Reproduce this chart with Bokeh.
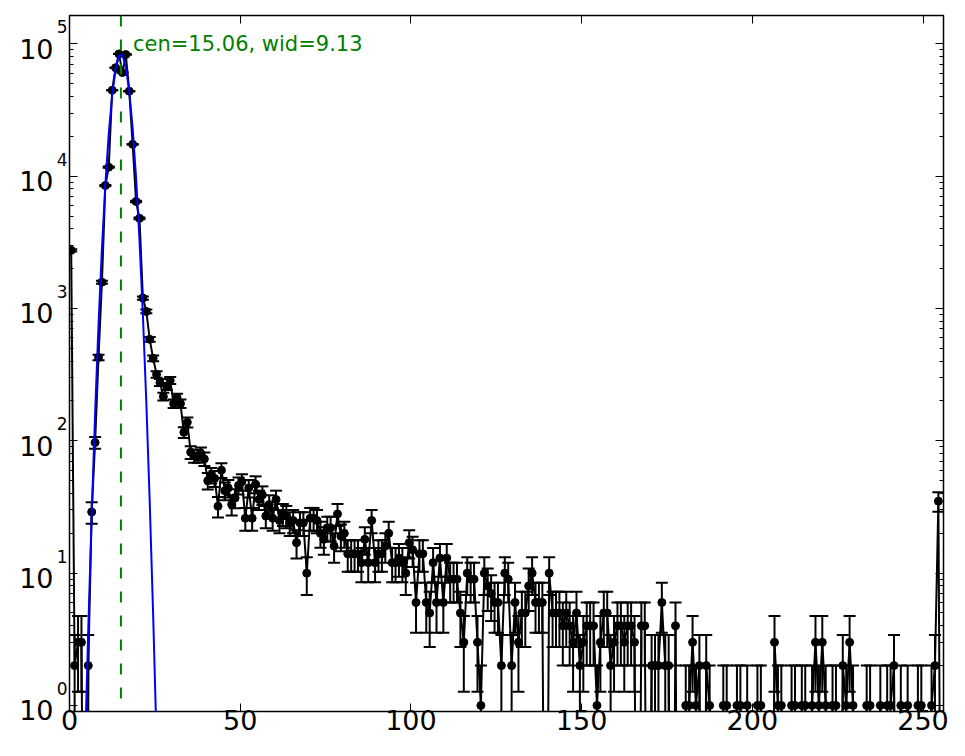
import numpy as np
from bokeh.plotting import figure
from bokeh.models import (Span, Label, LinearAxis, LogAxis, SingleIntervalTicker,
                          LogTicker, Range1d, CustomJSTickFormatter)
from bokeh.embed import file_html
from bokeh.resources import INLINE

# ---------------- data (counts per channel 0..255) ----------------
counts = [
    2750, 2, 3, 3, 0, 2, 29, 97, 427, 1580, 8500, 11700, 44600, 66000, 84000, 60700,
    83000, 43900, 17400, 6440, 4800, 1200, 950, 585, 420, 318, 276, 216, 258, 286, 191, 212,
    191, 116, 138, 82, 77, 77, 80, 73, 50, 55, 52, 32, 60, 42, 44, 33,
    37, 46, 49, 26, 44, 26, 47, 36, 39, 27, 33, 26, 36, 25, 28, 27,
    24, 25, 17, 24, 24, 10, 26, 26, 25, 20, 18, 22, 22, 16, 28, 19,
    20, 14, 14, 14, 14, 12, 18, 12, 25, 12, 14, 14, 16, 20, 12, 12,
    13, 12, 10, 17, 15, 6, 14, 14, 6, 5, 12, 6, 13, 6, 13, 9,
    9, 9, 5, 3, 10, 9, 9, 3, 1, 10, 8, 7, 6, 6, 2, 10,
    9, 2, 6, 3, 5, 5, 8, 10, 6, 6, 6, 0, 10, 5, 5, 5,
    4, 5, 4, 3, 5, 2, 3, 4, 4, 4, 1, 3, 5, 5, 2, 3,
    4, 4, 3, 4, 4, 3, 0, 4, 4, 0, 2, 2, 2, 6, 2, 2,
    0, 4, 0, 0, 1, 1, 3, 1, 2, 0, 2, 1, 0, 0, 0, 1,
    1, 0, 0, 1, 1, 0, 1, 0, 0, 1, 1, 0, 0, 0, 3, 1,
    1, 0, 0, 1, 1, 0, 1, 1, 0, 1, 3, 1, 3, 1, 0, 1,
    1, 0, 2, 1, 3, 1, 0, 0, 0, 1, 1, 0, 0, 1, 0, 1,
    1, 2, 0, 1, 0, 1, 0, 0, 1, 1, 0, 0, 1, 2, 35, 0,
]
channels = list(range(256))

fit_cen = 15.06
fit_wid = 9.13
fit_amp = 84000.0
fit_label = "cen=15.06, wid=9.13"
label_pos = (18.6, 1e5)

x_ticks = [0, 50, 100, 150, 200, 250]
y_exponents = [0, 1, 2, 3, 4, 5]

FONT = "DejaVu Sans"

# ---------------- derived ----------------
x = np.array(channels, dtype=float) + 0.5
n = np.array(counts, dtype=float)
FLOOR = 1e-3
y_line = np.where(n > 0, n, FLOOR)

mask = n > 0
xm = x[mask]
nm = n[mask]
err = np.sqrt(nm)
lo = np.maximum(nm - err, FLOOR)
hi = nm + err

xf = x[:40]
yf = np.maximum(fit_amp * np.exp(-(xf - fit_cen) ** 2 / fit_wid), FLOOR)

# ---------------- figure ----------------
Y0, Y1 = 0.90, 1.638e5
FRAME_H = 696.0
px_per_dec = FRAME_H / (np.log10(Y1) - np.log10(Y0))


def shifted(px_up):
    f = 10 ** (-px_up / px_per_dec)
    return Range1d(Y0 * f, Y1 * f)


p = figure(width=965, height=756, output_backend="svg", toolbar_location=None,
           x_range=Range1d(0, 256), y_range=Range1d(Y0, Y1),
           y_axis_type="log",
           min_border_left=69, min_border_right=22, min_border_top=15,
           min_border_bottom=45)
p.grid.visible = False
p.outline_line_color = "black"
p.outline_line_width = 1.5
p.background_fill_color = "white"
p.border_fill_color = "white"
p.extra_y_ranges = {"exp": shifted(17), "ten": shifted(-5)}

blank = CustomJSTickFormatter(code="return '';")

xa = p.xaxis[0]
xa.ticker = SingleIntervalTicker(interval=50, num_minor_ticks=0)
xa.major_tick_in = 8
xa.major_tick_out = 0
xa.minor_tick_line_color = None
xa.axis_line_color = None
xa.major_label_text_font = FONT
xa.major_label_text_font_size = "27px"
xa.major_label_text_color = "black"
xa.major_label_standoff = -2

# main y axis: ticks only
ya = p.yaxis[0]
ya.ticker = LogTicker(num_minor_ticks=10)
ya.formatter = blank
ya.major_tick_in = 8
ya.major_tick_out = 0
ya.minor_tick_in = 4
ya.minor_tick_out = 0
ya.axis_line_color = None
ya.major_label_text_font_size = "1px"
ya.major_label_standoff = 0

# exponent labels (placed above each tick)
exp_axis = LogAxis(y_range_name="exp", ticker=LogTicker(num_minor_ticks=0),
                   formatter=CustomJSTickFormatter(code="return String(Math.round(Math.log10(tick)));"),
                   major_tick_line_color=None, minor_tick_line_color=None,
                   axis_line_color=None, major_label_text_font=FONT,
                   major_label_text_font_size="17px", major_label_text_color="black",
                   major_label_standoff=-4)
p.add_layout(exp_axis, "left")
# "10" mantissa labels (slightly below each tick)
ten_axis = LogAxis(y_range_name="ten", ticker=LogTicker(num_minor_ticks=0),
                   formatter=CustomJSTickFormatter(code="return '10';"),
                   major_tick_line_color=None, minor_tick_line_color=None,
                   axis_line_color=None, major_label_text_font=FONT,
                   major_label_text_font_size="27px", major_label_text_color="black",
                   major_label_standoff=-6)
p.add_layout(ten_axis, "left")

top = LinearAxis(ticker=SingleIntervalTicker(interval=50, num_minor_ticks=0),
                 formatter=blank,
                 major_tick_in=8, major_tick_out=0, minor_tick_line_color=None,
                 axis_line_color=None, major_label_text_font_size="1px",
                 major_label_standoff=0)
p.add_layout(top, "above")
right = LogAxis(ticker=LogTicker(num_minor_ticks=10), formatter=blank,
                major_tick_in=8, major_tick_out=0, minor_tick_in=4, minor_tick_out=0,
                axis_line_color=None, major_label_text_font_size="1px",
                major_label_standoff=0)
p.add_layout(right, "right")

# data line
p.line(x, y_line, line_color="black", line_width=2)
# error bars
p.segment(x0=xm, y0=lo, x1=xm, y1=hi, line_color="black", line_width=2)
p.scatter(xm, hi, marker="dash", size=12, line_color="black", line_width=2)
p.scatter(xm, lo, marker="dash", size=12, line_color="black", line_width=2)
# markers
p.scatter(xm, nm, marker="circle", size=8, fill_color="black", line_color="black")
# fit
p.line(xf, yf, line_color="blue", line_width=2)

# centre line
p.add_layout(Span(location=fit_cen, dimension="height", line_color="green",
                  line_dash="11 13", line_width=2))

p.add_layout(Label(x=label_pos[0], y=label_pos[1], text=fit_label,
                   text_color="green", text_font=FONT, text_font_size="21px",
                   text_align="left", text_baseline="alphabetic"))

open("out.html", "w").write(file_html(p, INLINE))
